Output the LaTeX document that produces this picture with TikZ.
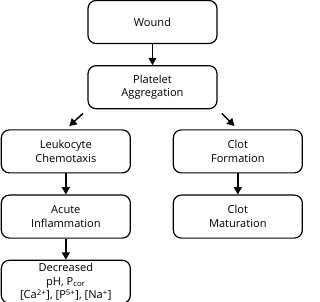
\documentclass[tikz,border=0pt]{standalone}
\usepackage{fontspec}
\setmainfont{Open Sans}
\usepackage{tikz}
\usetikzlibrary{positioning, arrows.meta}
\tikzset{
  stagebox/.style={draw, rounded corners=6pt, align=center, line width=0.9pt,
    minimum width=96.75pt, minimum height=32.25pt, inner sep=1pt},
  flow/.style={-{Triangle[length=5.5pt,width=6pt]}, line width=1.1pt}
}

\begin{document}
\begin{tikzpicture}[
    x=0.75pt, y=0.75pt,
    font=\fontsize{8.3}{10.3}\selectfont,
    node distance=15.75pt
  ]
  \useasboundingbox (0,0) rectangle (320,-302);

  \node[stagebox] (wound) at (152.5,-22) {Wound};
  \node[stagebox, below=of wound] (plat) {Platelet\\Aggregation};

  \node[stagebox, below=15pt of plat, xshift=-65pt] (leuk) {Leukocyte\\Chemotaxis};
  \node[stagebox, below=of leuk] (acute) {Acute\\Inflammation};
  \node[stagebox, below=of acute] (dec)
  {Decreased\\pH, P\textsubscript{cor}\\{}[Ca\textsuperscript{2+}], [P\textsuperscript{5+}], [Na\textsuperscript{+}]};

  \node[stagebox, below=15pt of plat, xshift=64pt] (clot) {Clot\\Formation};
  \node[stagebox, below=of clot] (mat) {Clot\\Maturation};

  \draw[flow] (wound) -- (plat);
  \draw[flow, shorten <=4.5pt, shorten >=3.5pt] (plat.south west) -- (leuk.north);
  \draw[flow, shorten <=4.5pt, shorten >=3.5pt] (plat.south east) -- (clot.north);
  \draw[flow] (leuk) -- (acute);
  \draw[flow] (acute) -- (dec);
  \draw[flow] (clot) -- (mat);

\end{tikzpicture}
\end{document}
